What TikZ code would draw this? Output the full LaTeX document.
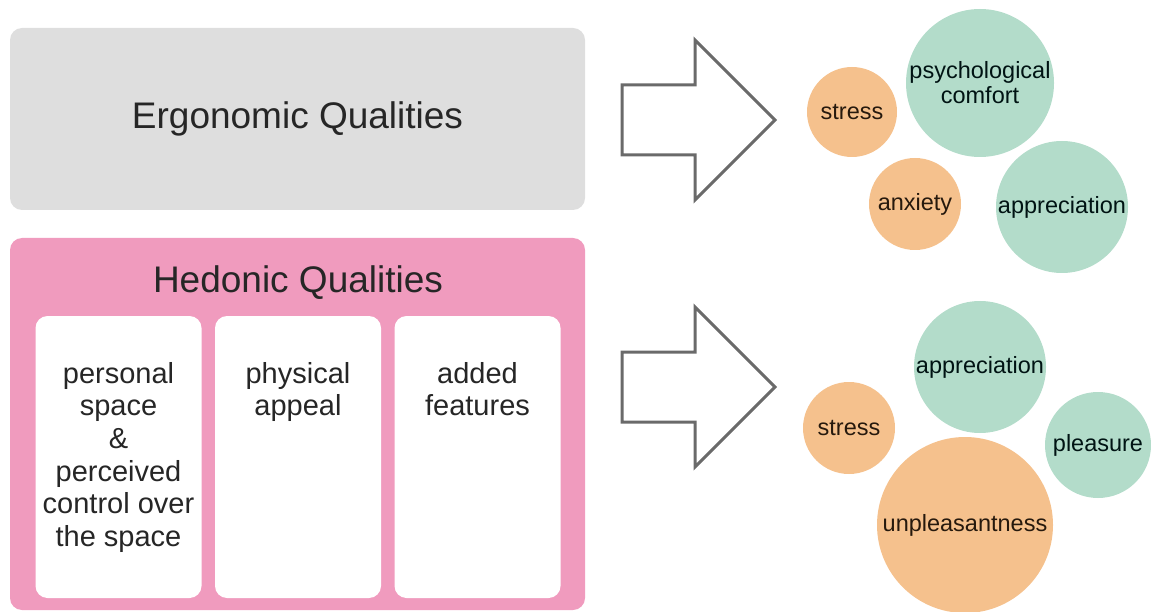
\documentclass[tikz,border=0pt]{standalone}
\usepackage{fontspec}
\setmainfont{Liberation Sans}
\usetikzlibrary{positioning}
\definecolor{ergogray}{HTML}{DEDEDE}
\definecolor{hedopink}{HTML}{F09BBE}
\definecolor{negorange}{HTML}{F5C18D}
\definecolor{posgreen}{HTML}{B3DCCA}
\definecolor{arrowgray}{HTML}{6A6A6A}
\definecolor{inkgray}{HTML}{262626}
\begin{document}
\begin{tikzpicture}[x=1pt,y=-1pt,
  panel/.style={rounded corners=12pt,minimum width=575pt,inner sep=0pt},
  title/.style={text=inkgray,inner sep=0pt,font=\fontsize{37}{44}\selectfont},
  card/.style={fill=white,rounded corners=12pt,minimum width=166pt,minimum height=282pt,inner sep=0pt},
  cardtext/.style={anchor=north,align=center,inner sep=0pt,text=inkgray,font=\fontsize{29}{32.6}\selectfont},
  bubble/.style={circle,inner sep=-14pt,align=center,font=\fontsize{23.5}{25}\selectfont},
  badbubble/.style={bubble,fill=negorange,text=black!80!brown},
  goodbubble/.style={bubble,fill=posgreen,text=black!85!teal}]
 \useasboundingbox (0,0) rectangle (1151,612);
 % left column: the two kinds of qualities
 \node[panel,fill=ergogray,minimum height=182pt] (ergo) at (297.5,119) {};
 \node[title] (ergotitle) at (ergo) {Ergonomic Qualities};
 \node[panel,fill=hedopink,minimum height=372pt] (hedo) at (297.5,424) {};
 \node[title] (hedotitle) at (298,283) {Hedonic Qualities};
 \node[card] (space) at (118.5,457) {};
 \node[card] (appeal) at (298,457) {};
 \node[card] (extras) at (477.5,457) {};
 \node[cardtext] (spacetxt) at (space.north |- 0,362) {personal\\space\\\&\\perceived\\control over\\the space};
 \node[cardtext] (appealtxt) at (appeal.north |- 0,362) {physical\\appeal};
 \node[cardtext] (extrastxt) at (extras.north |- 0,362) {added\\features};
 % block arrows
 \foreach \c in {120,387}
  \draw[arrowgray,line width=3pt,fill=white,line join=miter]
   (622,\c-35) -- (695,\c-35) -- (695,\c-80) -- (775,\c) -- (695,\c+80)
   -- (695,\c+35) -- (622,\c+35) -- cycle;
 % responses to ergonomic qualities
 \node[badbubble,minimum size=90pt] (stressA) at (852,112) {stress};
 \node[goodbubble,minimum size=148pt] (comfort) at (980,83) {psychological\\comfort};
 \node[badbubble,minimum size=92pt] (anxiety) at (915,204) {anxiety};
 \node[goodbubble,minimum size=132pt] (apprA) at (1062,207) {appreciation};
 % responses to hedonic qualities
 \node[badbubble,minimum size=92pt] (stressB) at (849,428) {stress};
 \node[goodbubble,minimum size=132pt] (apprB) at (980,367) {appreciation};
 \node[goodbubble,minimum size=106pt] (pleasure) at (1098,445) {pleasure};
 \node[badbubble,minimum size=176pt] (unpleasant) at (965,525) {unpleasantness};
\end{tikzpicture}
\end{document}
